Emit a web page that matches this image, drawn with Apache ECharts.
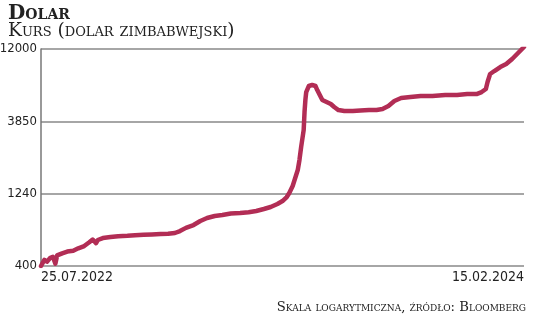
<!DOCTYPE html>
<html><head><meta charset="utf-8">
<script src="https://cdn.jsdelivr.net/npm/echarts@6/dist/echarts.min.js"></script>
<style>html,body{margin:0;padding:0;background:#fff}#c{width:536px;height:317px}</style>
</head><body><div id="c"></div>
<script>
const dates = ['2022-07-25','2022-07-27','2022-07-29','2022-08-01','2022-08-05','2022-08-08','2022-08-11','2022-08-13','2022-08-19','2022-08-25','2022-09-01','2022-09-07','2022-09-14','2022-09-20','2022-09-24','2022-09-28','2022-09-30','2022-10-06','2022-10-15','2022-10-24','2022-11-04','2022-11-13','2022-11-23','2022-12-03','2022-12-13','2022-12-22','2022-12-30','2023-01-05','2023-01-12','2023-01-21','2023-01-29','2023-02-06','2023-02-15','2023-02-24','2023-03-06','2023-03-17','2023-03-27','2023-04-05','2023-04-14','2023-04-22','2023-04-30','2023-05-06','2023-05-11','2023-05-14','2023-05-18','2023-05-21','2023-05-24','2023-05-26','2023-05-28','2023-05-31','2023-06-01','2023-06-02','2023-06-03','2023-06-06','2023-06-10','2023-06-14','2023-06-16','2023-06-19','2023-06-22','2023-06-27','2023-07-02','2023-07-06','2023-07-11','2023-07-18','2023-07-28','2023-08-06','2023-08-16','2023-08-25','2023-09-01','2023-09-08','2023-09-15','2023-09-23','2023-10-04','2023-10-16','2023-10-30','2023-11-14','2023-11-28','2023-12-10','2023-12-21','2023-12-27','2024-01-01','2024-01-03','2024-01-06','2024-01-11','2024-01-18','2024-01-25','2024-02-01','2024-02-08','2024-02-15'];
const rates = [400,420,440,428,455,462,415,472,488,502,508,528,547,580,606,572,601,620,630,638,642,648,652,656,660,662,671,692,727,760,810,849,876,889,912,918,930,947,977,1008,1057,1107,1179,1256,1402,1589,1800,2106,2582,3371,4468,5392,6113,6716,6822,6716,6308,5832,5392,5226,5066,4833,4609,4538,4538,4580,4609,4609,4683,4909,5309,5564,5652,5741,5741,5832,5832,5924,5924,6113,6408,7150,8106,8496,9046,9481,10252,11265,12374];
const yTicks = [400,1240,3850,12000];
const xLabels = ['2022-07-25','2024-02-15'];
const title = 'Dolar';
const subtitle = 'Kurs (dolar zimbabwejski)';
const source = 'Skala logarytmiczna, źródło: Bloomberg';

const chart = echarts.init(document.getElementById('c'), null, {renderer:'canvas'});
const serif = "'DejaVu Serif', 'Liberation Serif', serif";
const narrow = "'DejaVu Sans Condensed', 'Roboto', sans-serif";
const ts = s => Date.parse(s + 'T00:00:00Z');
function fmt(v){const d=new Date(v);const p=n=>String(n).padStart(2,'0');return p(d.getUTCDate())+'.'+p(d.getUTCMonth()+1)+'.'+d.getUTCFullYear();}
const xVals = xLabels.map(ts);
chart.setOption({
  animation:false,
  title:[
    {text:title,left:3,top:-1,textStyle:{fontFamily:serif,fontWeight:'bold',fontStyle:'small-caps',fontSize:20,color:'#222'}},
    {text:subtitle,left:3,top:17,textStyle:{fontFamily:serif,fontWeight:'normal',fontStyle:'small-caps',fontSize:18.6,color:'#222'}},
    {text:source,right:5,top:296,textStyle:{fontFamily:serif,fontWeight:'normal',fontStyle:'small-caps',fontSize:13.2,color:'#222'}}
  ],
  grid:{left:41,right:12,top:49,bottom:51,containLabel:false,outerBoundsMode:'none'},
  xAxis:{type:'value',min:xVals[0],max:xVals[1],
    axisLine:{show:false},axisTick:{show:false},splitLine:{show:false},
    axisLabel:{customValues:xVals,formatter:v=>fmt(v),
      fontFamily:narrow,fontSize:14,color:'#222',margin:4,alignMinLabel:'left',alignMaxLabel:'right'}},
  yAxis:{type:'log',min:yTicks[0],max:yTicks[yTicks.length-1],logBase:10,
    axisLine:{show:true,onZero:false,lineStyle:{color:'#777',width:1.5}},
    axisTick:{show:false,customValues:yTicks},
    axisLabel:{customValues:yTicks,fontFamily:narrow,fontSize:13,color:'#222',margin:4,formatter:v=>String(Math.round(v))},
    splitLine:{show:true,lineStyle:{color:'#888',width:1.5}}},
  series:[{type:'line',data:dates.map((d,i)=>[ts(d),rates[i]]),showSymbol:false,
    lineStyle:{color:'#b22d55',width:4.5,cap:'round',join:'round'},itemStyle:{color:'#b22d55'}}]
});
</script></body></html>
